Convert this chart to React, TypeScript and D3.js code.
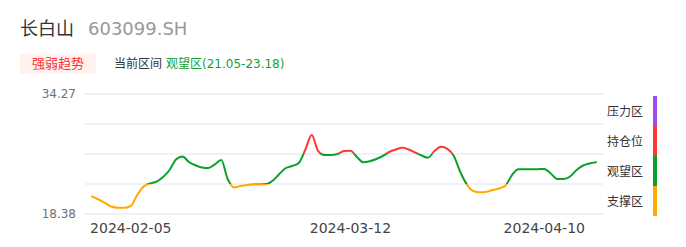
import React from "react";
import * as d3 from "d3";

const stockName = "长白山";
const stockCode = "603099.SH";
const badgeText = "强弱趋势";
const rangeLabel = "当前区间";
const rangeValue = "观望区(21.05-23.18)";

const prices: number[] = [
  20.72, 20.3, 19.84, 19.37, 19.21, 19.21, 19.44, 20.9, 22.02, 22.42,
  22.68, 23.28, 24.21, 25.6, 25.99, 25.27, 24.83, 24.54, 24.47, 24.94,
  25.53, 23.01, 21.89, 22.09, 22.22, 22.29, 22.29, 22.35, 22.82, 23.68,
  24.47, 24.74, 25.13, 26.86, 28.84, 26.72, 26.19, 26.19, 26.33, 26.72,
  26.76, 25.93, 25.23, 25.36, 25.66, 26.06, 26.59, 26.92, 27.15, 26.92,
  26.52, 26.13, 25.84, 26.72, 27.29, 27.01, 26.06, 23.94, 22.31, 21.43,
  21.25, 21.32, 21.56, 21.76, 22.15, 23.54, 24.3, 24.3, 24.3, 24.31,
  24.34, 23.74, 23.01, 23.01, 23.35, 24.21, 24.8, 25.07, 25.23,
];

const tickLabels = ["2024-02-05", "2024-03-12", "2024-04-10"];
const tickIndex = [6, 40, 70];

const yMin = 18.38;
const yMax = 34.27;

const zoneNames = ["压力区", "持仓位", "观望区", "支撑区"];
const zoneColors = ["#a24cf0", "#ff3636", "#0aa02a", "#ffaa00"];

const FONT = "'DejaVu Sans', 'Noto Sans CJK SC', sans-serif";

export default function App() {
  const left = 85;
  const right = 603;
  const top = 94;
  const bottom = 214;

  const x = d3.scaleLinear().domain([0, prices.length - 1]).range([92, 596]);
  const y = d3.scaleLinear().domain([yMin, yMax]).range([bottom, top]);
  const gridVals = d3.range(5).map((i) => yMin + ((yMax - yMin) * i) / 4);

  const line = d3
    .line<number>()
    .x((_, i) => x(i))
    .y((d) => y(d))
    .curve(d3.curveMonotoneX);

  // thresholds from top: purple > g3, red > g2, green > g1, orange below
  const span = bottom - top;
  const off = (v: number) => (y(v) - top) / span;
  const t3 = off(gridVals[3]);
  const t2 = off(gridVals[2]);
  const t1 = off(gridVals[1]);
  const stops = [
    [0, zoneColors[0]],
    [t3, zoneColors[0]],
    [t3, zoneColors[1]],
    [t2, zoneColors[1]],
    [t2, zoneColors[2]],
    [t1, zoneColors[2]],
    [t1, zoneColors[3]],
    [1, zoneColors[3]],
  ] as [number, string][];

  const legendTop = 96;
  const bandH = 30;

  return (
    <svg
      width={686}
      height={247}
      style={{ position: "absolute", left: 0, top: 0, background: "#fff" }}
      fontFamily={FONT}
    >
      <defs>
        <linearGradient id="zoneGrad" gradientUnits="userSpaceOnUse" x1={0} y1={top} x2={0} y2={bottom}>
          {stops.map(([o, c], i) => (
            <stop key={i} offset={o} stopColor={c} />
          ))}
        </linearGradient>
      </defs>

      <text x={20} y={35} fontSize={18} fill="#333">{stockName}</text>
      <text x={88} y={35} fontSize={18} fill="#999">{stockCode}</text>

      <rect x={20} y={53.5} width={76} height={20} fill="#fff1ee" />
      <text x={58} y={68} fontSize={13} fill="#ff3030" textAnchor="middle">{badgeText}</text>
      <text x={114} y={68} fontSize={12} fill="#333">
        {rangeLabel}
        <tspan dx={4} fill="#13a033">{rangeValue}</tspan>
      </text>

      {gridVals.map((v, i) => (
        <line key={i} x1={left} x2={right} y1={y(v)} y2={y(v)} stroke="#dfe4f1" strokeWidth={1} />
      ))}

      <text x={76} y={y(yMax) + 4} fontSize={12} fill="#6e7079" textAnchor="end">{yMax.toFixed(2)}</text>
      <text x={76} y={y(yMin) + 4} fontSize={12} fill="#6e7079" textAnchor="end">{yMin.toFixed(2)}</text>

      {tickLabels.map((t, i) => (
        <text key={t} x={x(tickIndex[i])} y={233} fontSize={14} fill="#444" textAnchor="middle">{t}</text>
      ))}

      <path d={line(prices) || ""} fill="none" stroke="url(#zoneGrad)" strokeWidth={2} strokeLinejoin="round" strokeLinecap="round" />

      {zoneNames.map((n, i) => (
        <g key={n}>
          <rect x={653} y={legendTop + i * bandH} width={4} height={bandH} fill={zoneColors[i]} />
          <text x={607} y={legendTop + i * bandH + bandH / 2 + 4.5} fontSize={12} fill="#333">{n}</text>
        </g>
      ))}
    </svg>
  );
}
